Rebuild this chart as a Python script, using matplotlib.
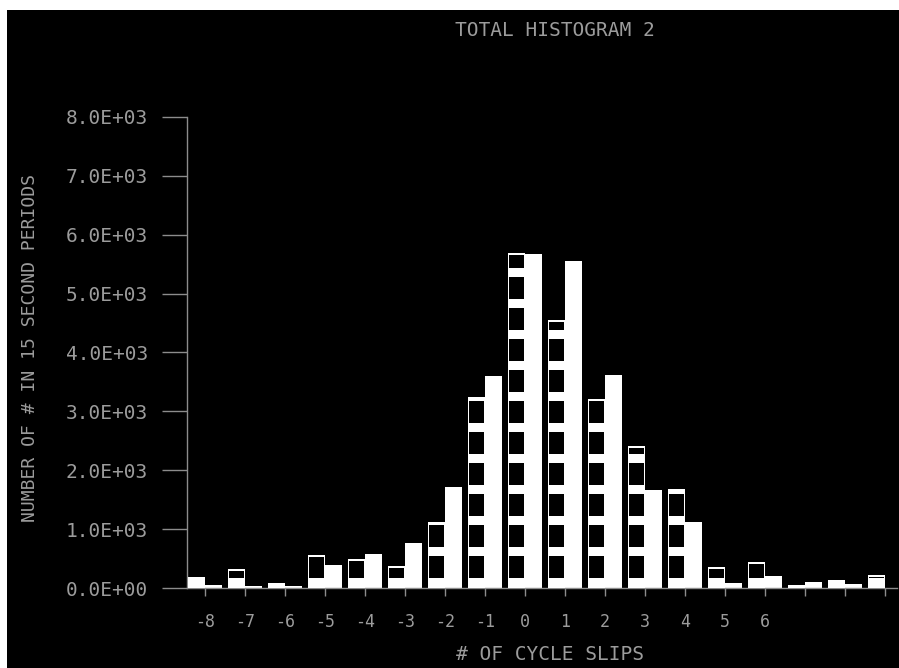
import matplotlib
matplotlib.use("Agg")
import matplotlib.pyplot as plt
from matplotlib.patches import Rectangle
import numpy as np

# ---- data ----
categories = [-8, -7, -6, -5, -4, -3, -2, -1, 0, 1, 2, 3, 4, 5, 6, 7, 8, 9]
series_patterned = [190, 320, 90, 560, 490, 370, 1120, 3250, 5690, 4550, 3210, 2410, 1680, 360, 440, 50, 130, 220]
series_solid = [50, 40, 40, 390, 580, 760, 1720, 3600, 5670, 5550, 3615, 1660, 1120, 85, 200, 100, 60, 0]
x_tick_labels = ["-8", "-7", "-6", "-5", "-4", "-3", "-2", "-1", "0", "1", "2", "3", "4", "5", "6", "", "", ""]
y_ticks = [0, 1000, 2000, 3000, 4000, 5000, 6000, 7000, 8000]
y_tick_labels = ["0.0E+00", "1.0E+03", "2.0E+03", "3.0E+03", "4.0E+03",
                 "5.0E+03", "6.0E+03", "7.0E+03", "8.0E+03"]
title = "TOTAL HISTOGRAM 2"
xlabel = "# OF CYCLE SLIPS"
ylabel = "NUMBER OF # IN 15 SECOND PERIODS"

TXT = "#9c9c9c"
MONO = "DejaVu Sans Mono"

fig = plt.figure(figsize=(8.99, 6.68), dpi=100, facecolor="white")
fig.patches.append(Rectangle((7 / 899, 0), 1, (668 - 10) / 668, transform=fig.transFigure,
                             facecolor="black", edgecolor="none", zorder=-10))

ax = fig.add_axes([187 / 899, (668 - 588) / 668, (897 - 187) / 899, (588 - 117) / 668])
ax.set_facecolor("black")

x = np.array(categories, dtype=float)
w = 0.42
pat = np.array(series_patterned, dtype=float)
sol = np.array(series_solid, dtype=float)

# solid bars (right of tick)
ax.bar(x, sol, width=w, align="edge", color="white", edgecolor="none", zorder=2)
# patterned bars (left of tick): white with black squares
ax.bar(x - w, pat, width=w, align="edge", color="white", edgecolor="none", zorder=3)

# pattern of black squares inside the patterned bars (style only)
period, sq, offset, top_margin, side = 526.0, 374.0, 170.0, 35.0, 0.03
for xi, h in zip(x, pat):
    k = 0
    while True:
        y0 = offset + k * period
        y1 = min(y0 + sq, h - top_margin)
        if y0 >= h - top_margin:
            break
        if y1 > y0:
            ax.bar(xi - w + side, y1 - y0, bottom=y0, width=w - 2 * side, align="edge",
                   color="black", edgecolor="none", zorder=4)
        k += 1

ax.set_xlim(-8.45, 9.3)
ax.set_ylim(0, 8000)
ax.set_xticks(categories)
ax.set_xticklabels(x_tick_labels, family=MONO, fontsize=12, color=TXT)
ax.set_yticks(y_ticks)
ax.set_yticklabels(y_tick_labels, family=MONO, fontsize=14, color=TXT)

for s in ["top", "right"]:
    ax.spines[s].set_visible(False)
for s in ["left", "bottom"]:
    ax.spines[s].set_color("#8c8c8c")
    ax.spines[s].set_linewidth(1.0)
ax.tick_params(axis="y", direction="out", length=18, width=1, color="#8c8c8c", pad=10)
ax.tick_params(axis="x", direction="out", length=6, width=1, color="#8c8c8c", pad=12)

fig.text(555 / 899, 1 - 30 / 668, title, ha="center", va="center", family=MONO,
         fontsize=14, color=TXT)
fig.text(550 / 899, 1 - 655 / 668, xlabel, ha="center", va="center", family=MONO,
         fontsize=14, color=TXT)
fig.text(30 / 899, 1 - 348 / 668, ylabel, ha="center", va="center", rotation=90,
         family=MONO, fontsize=13, color=TXT)

fig.savefig("out.png", dpi=100, facecolor=fig.get_facecolor())
